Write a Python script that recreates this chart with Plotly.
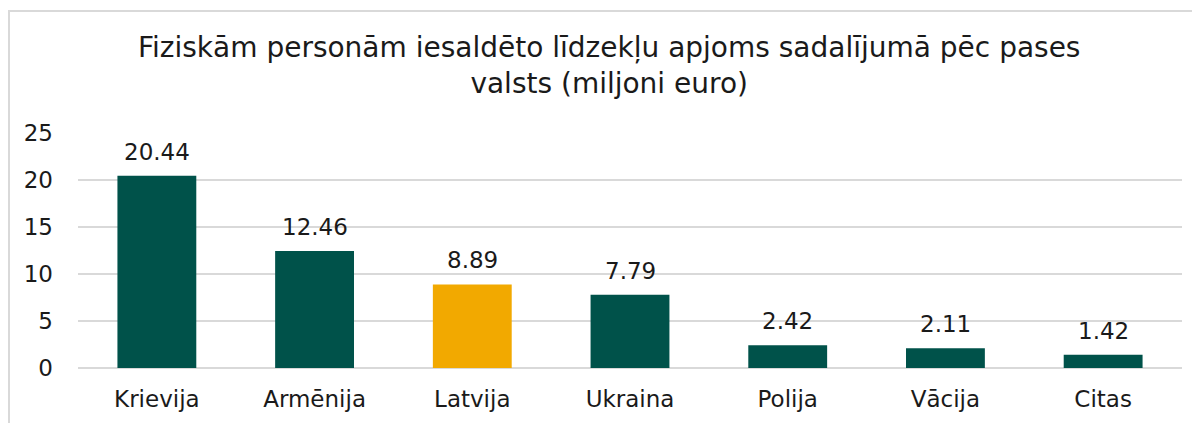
import plotly.graph_objects as go

categories = ["Krievija", "Armēnija", "Latvija", "Ukraina", "Polija", "Vācija", "Citas"]
values = [20.44, 12.46, 8.89, 7.79, 2.42, 2.11, 1.42]
highlight = "Latvija"
y_ticks = [0, 5, 10, 15, 20, 25]

GREEN = "#00524A"
GOLD = "#F2A900"
colors = [GOLD if c == highlight else GREEN for c in categories]

fig = go.Figure(go.Bar(
    x=categories, y=values,
    marker=dict(color=colors, line=dict(width=0)),
    cliponaxis=False,
))

for c, v in zip(categories, values):
    fig.add_annotation(x=c, y=v, text=f"{v:.2f}", showarrow=False,
                       yanchor="bottom", yshift=9, font=dict(size=23, color="#1a1a1a"))

fig.update_layout(
    width=1200, height=423,
    paper_bgcolor="white", plot_bgcolor="white",
    font=dict(family="DejaVu Sans, Verdana, sans-serif", color="#1a1a1a", size=23),
    title=dict(
        text="Fiziskām personām iesaldēto līdzekļu apjoms sadalījumā pēc pases<br>valsts (miljoni euro)",
        x=0.501, xanchor="center", xref="container", y=0.884, yanchor="top",
        font=dict(size=28, color="#1a1a1a"),
    ),
    margin=dict(l=70, r=26, t=125, b=63, autoexpand=False),
    bargap=0.5,
    showlegend=False,
    xaxis=dict(showgrid=False, showline=False, ticks="", tickfont=dict(size=23),
               ticklabelstandoff=15, automargin=False),
    yaxis=dict(range=[0, 25], tickvals=y_ticks, showgrid=True, gridcolor="#D9D9D9", gridwidth=1.5,
               zeroline=True, zerolinecolor="#D9D9D9", zerolinewidth=1.5,
               showline=False, ticks="", tickfont=dict(size=23), ticklabelstandoff=24,
               automargin=False),
    shapes=[dict(type="rect", xref="paper", yref="paper",
                 x0=-69/1104, x1=1.1, y0=-0.5, y1=(423-3-63)/235,
                 line=dict(color="#D9D9D9", width=2), fillcolor="rgba(0,0,0,0)", layer="below")],
)

fig.write_html("out.html")
